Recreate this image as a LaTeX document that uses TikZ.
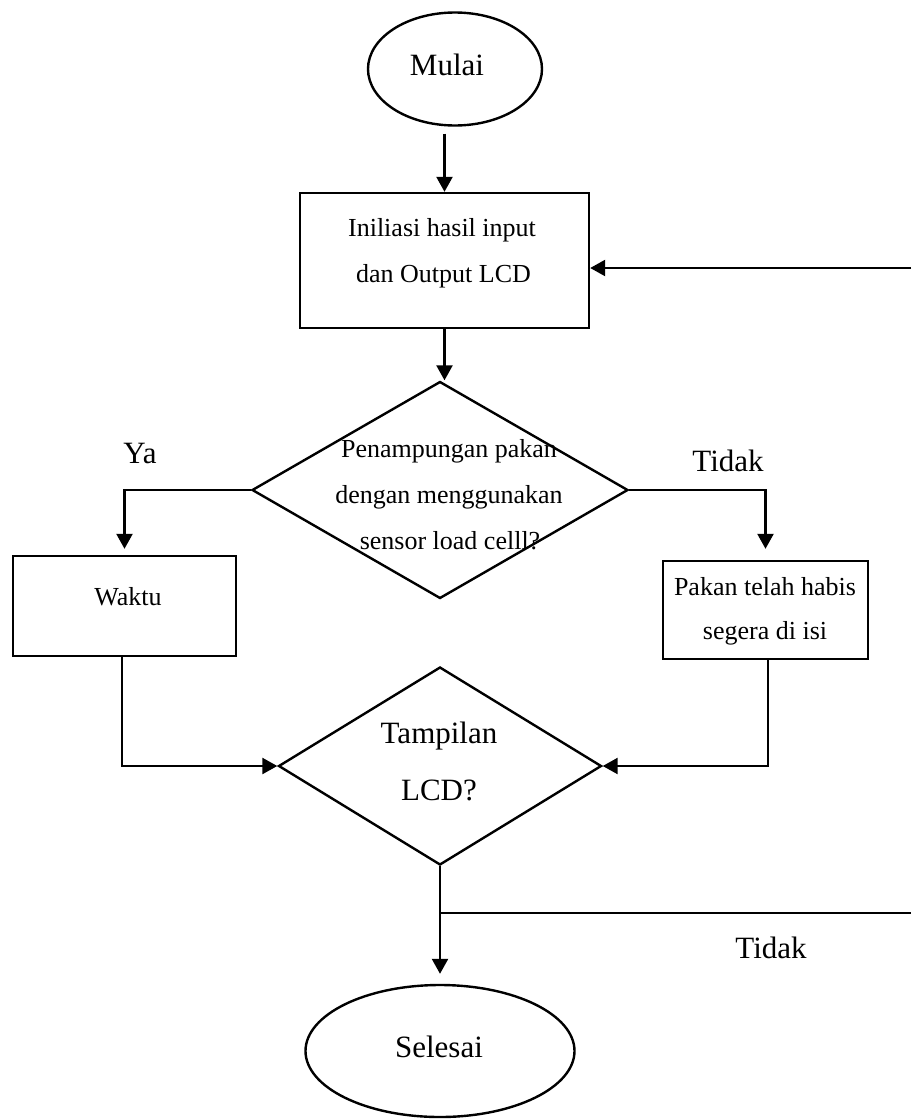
\documentclass[tikz,border=0pt]{standalone}
\usepackage{fontspec}
\setmainfont{Liberation Serif}
\usetikzlibrary{shapes.geometric,arrows.meta,calc}

\begin{document}
\begin{tikzpicture}[x=1pt,y=-1pt,
  line width=2.4pt,
  flow/.style={-{Triangle[width=16pt,length=15pt]}},
  terminal/.style={draw,ellipse,inner sep=0pt},
  procbox/.style={draw,rectangle,inner sep=0pt},
  decision/.style={draw,diamond,inner sep=0pt},
  big/.style={font=\fontsize{31}{36}\selectfont,inner sep=0pt,anchor=base},
  small/.style={font=\fontsize{26}{30}\selectfont,inner sep=0pt,anchor=base},
]
\useasboundingbox (0,0) rectangle (911,1119);

% shapes
\node[terminal,minimum width=174pt,minimum height=113pt] (mulai) at (455,69) {};
\node[procbox,minimum width=289pt,minimum height=135pt] (init) at (444.5,260.5) {};
\node[decision,minimum width=376pt,minimum height=217pt] (cek) at (440,490) {};
\node[procbox,minimum width=223pt,minimum height=100pt] (waktu) at (124.5,606) {};
\node[procbox,minimum width=205pt,minimum height=98pt] (habis) at (765.5,610) {};
\node[decision,minimum width=323pt,minimum height=198pt] (lcd) at (440,766) {};
\node[terminal,minimum width=269pt,minimum height=132pt] (selesai) at (440,1051) {};

% texts
\node[big] (mulaitxt) at (447,75) {Mulai};
\node[small] (inita) at (442,236) {Iniliasi hasil input};
\node[small] (initb) at (443.5,282) {dan Output LCD};
\node[small] (ceka) at (449,457) {Penampungan pakan};
\node[small] (cekb) at (449,503) {dengan menggunakan};
\node[small] (cekc) at (450,549) {sensor load celll?};
\node[small] (waktutxt) at (128,605) {Waktu};
\node[small] (habisa) at (765,595) {Pakan telah habis};
\node[small] (habisb) at (765,639) {segera di isi};
\node[big] (lcda) at (439,743) {Tampilan};
\node[big] (lcdb) at (439,800) {LCD?};
\node[big] (selesaitxt) at (439,1057) {Selesai};
\node[big] (ya) at (140,463) {Ya};
\node[big] (tidaka) at (728,471) {Tidak};
\node[big] (tidakb) at (771,958) {Tidak};

% loop ends at the right margin
\coordinate (loopin) at (911,268);
\coordinate (loopout) at (911,913);

% connectors
\draw[flow,shorten <=7pt] (mulai.south -| init.north) -- (init.north);
\draw[flow] (loopin) -- (loopin -| init.east);
\draw[flow] (init.south) -- (init.south |- cek.north);
\draw[flow,shorten >=6pt] (cek.west) -| (waktu.north);
\draw[flow,shorten >=11pt] (cek.east) -| (habis.north);
\draw[flow] ([xshift=-2.5pt]waktu.south) |- (lcd.west);
\draw[flow] ([xshift=2.5pt]habis.south) |- (lcd.east);
\draw[flow,shorten >=10pt] (lcd.south) -- (selesai.north);
\draw (lcd.south |- loopout) -- (loopout);
\end{tikzpicture}
\end{document}
